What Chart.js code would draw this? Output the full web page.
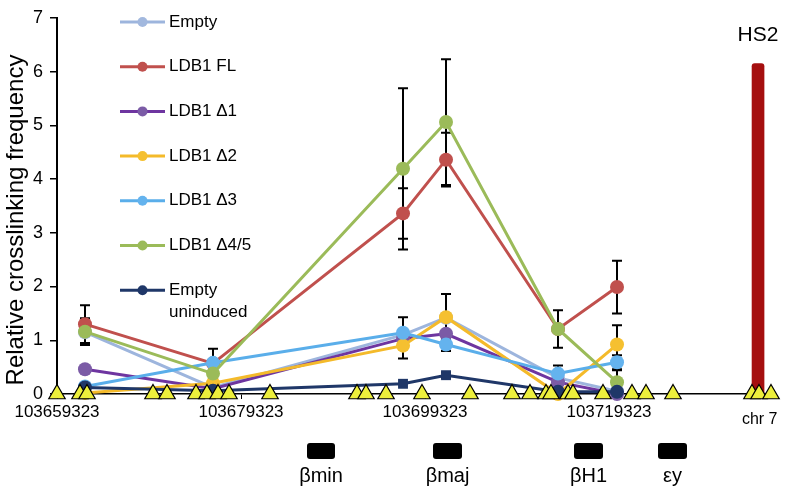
<!DOCTYPE html>
<html><head><meta charset="utf-8">
<script src="https://cdn.jsdelivr.net/npm/chart.js@4/dist/chart.umd.min.js"></script>
<style>html,body{margin:0;padding:0;background:#fff}#wrap{width:787px;height:486px}</style>
</head><body><div id="wrap"><canvas id="c" width="787" height="486"></canvas></div>
<script>
// ---- data ----
const xMin = 103659323, xMax = 103737366;
const xTickPositions = [103659323, 103679323, 103699323, 103719323];
const chrLabel = 'chr 7';
const chrLabelPos = 103735700;
const probePositions = [103662366, 103676280, 103696932, 103701606, 103713780, 103720193];

const emptyVals      = [1.15, 0.12, 1.10, 1.42, 0.30, 0.05];
const fullVals       = [1.30, 0.57, 3.36, 4.36, 1.21, 1.99];
const d1Vals         = [0.46, 0.10, 1.03, 1.12, 0.22, 0.00];
const d2Vals         = [0.02, 0.20, 0.90, 1.43, 0.00, 0.92];
const d3Vals         = [0.14, 0.58, 1.14, 0.92, 0.38, 0.59];
const d45Vals        = [1.16, 0.38, 4.19, 5.06, 1.21, 0.22];
const uninducedVals  = [0.12, 0.06, 0.19, 0.35, 0.04, 0.04];

const fullErr  = [0.35, 0.27, 0.47, 0.50, 0.35, 0.49];
const d45Err   = [0.25, null, 1.50, 1.17, null, 0.22];
const d2Err    = [null, null, 0.24, 0.43, null, 0.36];
const d3Err    = [null, null, 0.29, 0.12, 0.15, 0.13];
const uninducedErr = [null, null, null, 0.05, null, null];

const primerPositions = [103659323,103661823,103662584,103669758,103671280,103674432,103675627,
  103676823,103678019,103682475,103691932,103692910,103695084,103698997,103704214,103708780,
  103710736,103712475,103713019,103714866,103715410,103718671,103721823,103723345,103726280,
  103734866,103735627,103736932];

const hs2Position = 103735522;
const hs2Value = 6.15;
const hs2Label = 'HS2';

const geneNames  = ['βmin', 'βmaj', 'βH1', 'εy'];
const geneStarts = [103686497, 103700193, 103715519, 103724649];
const geneEnds   = [103689540, 103703345, 103718671, 103727801];

const seriesLabels = ['Empty', 'LDB1 FL', 'LDB1 Δ1', 'LDB1 Δ2', 'LDB1 Δ3', 'LDB1 Δ4/5', ['Empty', 'uninduced']];
const yTitle = 'Relative crosslinking frequency';

// ---- build ----
const FONT = "'Liberation Sans', Arial, sans-serif";
const pts = vals => probePositions.map((x, i) => ({x, y: vals[i]}));

function lineDs(i, vals, line, marker, order, errs, styles) {
  return {
    type: 'line', label: seriesLabels[i], data: pts(vals), errors: errs || null,
    borderColor: line, backgroundColor: marker, borderWidth: 3,
    pointRadius: 7, pointHoverRadius: 7, pointBorderWidth: 0,
    pointBackgroundColor: marker, pointBorderColor: marker,
    pointStyle: styles || 'circle', order: order, clip: false, tension: 0,
    legendLine: line, legendMarker: marker
  };
}

const seriesDs = [
  lineDs(0, emptyVals, '#9DB5DD', '#A2B8DE', 7, null),
  lineDs(1, fullVals, '#C0504D', '#C0504D', 6, fullErr),
  lineDs(2, d1Vals, '#6E35A0', '#7B5BA6', 5, null),
  lineDs(3, d2Vals, '#F4BA2A', '#F5C030', 4, d2Err),
  lineDs(4, d3Vals, '#5AAEEA', '#64B3EE', 3, d3Err),
  lineDs(5, d45Vals, '#9BBB59', '#9BBB59', 2, d45Err),
  lineDs(6, uninducedVals, '#1F3768', '#1F3768', 1, uninducedErr, ['circle','circle','rect','rect','circle','circle'])
];

const datasets = [
  {
    type: 'bar', label: hs2Label, data: [{x: hs2Position, y: hs2Value}],
    backgroundColor: '#A50F0F', barThickness: 12, borderRadius: {topLeft: 3, topRight: 3},
    borderSkipped: 'bottom', order: 8
  },
  ...seriesDs,
  {
    type: 'line', label: 'primers', data: primerPositions.map(x => ({x, y: 0})),
    showLine: false, pointStyle: 'triangle', pointRadius: 9.5, pointHoverRadius: 9.5,
    pointBackgroundColor: '#EDEF3C', pointBorderColor: '#000', pointBorderWidth: 1.2,
    order: 0, clip: false
  }
];

const errorBars = {
  id: 'errorBars',
  beforeDatasetsDraw(chart) {
    const ctx = chart.ctx, ys = chart.scales.y;
    ctx.save();
    ctx.strokeStyle = '#000'; ctx.lineWidth = 2;
    chart.data.datasets.forEach((ds, di) => {
      if (!ds.errors) return;
      const meta = chart.getDatasetMeta(di);
      ds.errors.forEach((e, i) => {
        if (e == null) return;
        const x = meta.data[i].x, v = ds.data[i].y;
        const y1 = ys.getPixelForValue(v + e), y2 = ys.getPixelForValue(Math.max(0, v - e));
        ctx.beginPath();
        ctx.moveTo(x, y1); ctx.lineTo(x, y2);
        ctx.moveTo(x - 5, y1); ctx.lineTo(x + 5, y1);
        ctx.moveTo(x - 5, y2); ctx.lineTo(x + 5, y2);
        ctx.stroke();
      });
    });
    ctx.restore();
  }
};

const annotations = {
  id: 'annotations',
  afterDraw(chart) {
    const ctx = chart.ctx, xs = chart.scales.x, ys = chart.scales.y;
    ctx.save();
    // y title
    ctx.fillStyle = '#000';
    ctx.font = `24px ${FONT}`;
    ctx.textAlign = 'center'; ctx.textBaseline = 'middle';
    ctx.translate(16, 220); ctx.rotate(-Math.PI / 2);
    ctx.fillText(yTitle, 0, 0);
    ctx.setTransform(1, 0, 0, 1, 0, 0);
    // legend
    const lx0 = 120, lx1 = 165, tx = 169;
    let ly = 22;
    seriesDs.forEach(ds => {
      ctx.strokeStyle = ds.legendLine; ctx.lineWidth = 3;
      ctx.beginPath(); ctx.moveTo(lx0, ly); ctx.lineTo(lx1, ly); ctx.stroke();
      ctx.fillStyle = ds.legendMarker;
      ctx.beginPath(); ctx.arc((lx0 + lx1) / 2, ly, 5, 0, Math.PI * 2); ctx.fill();
      ctx.fillStyle = '#000'; ctx.font = `17px ${FONT}`;
      ctx.textAlign = 'left'; ctx.textBaseline = 'middle';
      const lines = Array.isArray(ds.label) ? ds.label : [ds.label];
      lines.forEach((t, k) => ctx.fillText(t, tx, ly + k * 22));
      ly += 44.7;
    });
    // HS2 label
    ctx.font = `21px ${FONT}`; ctx.textAlign = 'center';
    ctx.fillText(hs2Label, xs.getPixelForValue(hs2Position), 35);
    // chr label
    ctx.font = `16px ${FONT}`;
    ctx.fillText(chrLabel, xs.getPixelForValue(chrLabelPos), 420);
    // genes
    geneNames.forEach((g, i) => {
      const a = xs.getPixelForValue(geneStarts[i]), b = xs.getPixelForValue(geneEnds[i]);
      ctx.fillStyle = '#000';
      ctx.beginPath(); ctx.roundRect(a, 443, b - a, 16, 3); ctx.fill();
      ctx.font = `20px ${FONT}`;
      ctx.fillText(g, (a + b) / 2, 476);
    });
    ctx.restore();
  }
};

new Chart(document.getElementById('c'), {
  type: 'line',
  data: {datasets},
  options: {
    responsive: false, animation: false, events: [],
    layout: {padding: {left: 0, top: 13, right: 12, bottom: 0}},
    plugins: {legend: {display: false}, tooltip: {enabled: false}},
    scales: {
      x: {
        type: 'linear', min: xMin, max: xMax, offset: false,
        afterBuildTicks: s => { s.ticks = xTickPositions.map(v => ({value: v})); },
        afterFit: s => { s.height = 92; },
        ticks: {color: '#000', font: {size: 17, family: FONT}, padding: 3, maxRotation: 0, autoSkip: false,
                callback: v => String(v)},
        grid: {display: true, drawOnChartArea: false, drawTicks: true, tickLength: 5, color: '#000', offset: false},
        border: {display: true, color: '#000', width: 1.5}
      },
      y: {
        type: 'linear', min: 0, max: 7,
        afterFit: s => { s.width = 57; },
        ticks: {stepSize: 1, color: '#000', font: {size: 18, family: FONT}, padding: 7},
        grid: {display: true, drawOnChartArea: false, drawTicks: true, tickLength: 7, color: '#000', lineWidth: 1.5},
        border: {display: true, color: '#000', width: 2},
        title: {display: false}
      }
    }
  },
  plugins: [errorBars, annotations]
});
</script>
</body></html>
